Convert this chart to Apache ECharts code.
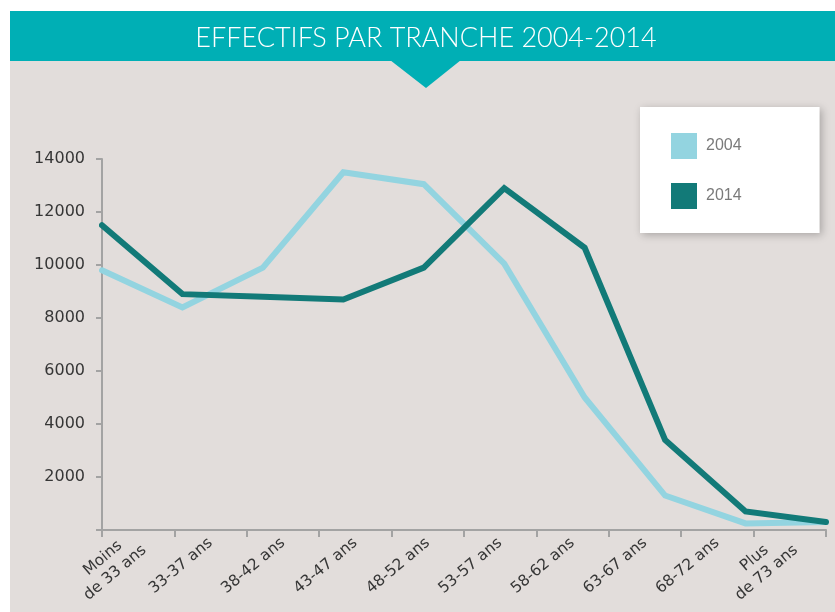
<!DOCTYPE html>
<html>
<head>
<meta charset="utf-8">
<title>Effectifs par tranche 2004-2014</title>
<script src="https://cdn.jsdelivr.net/npm/echarts@6/dist/echarts.min.js"></script>
<style>
  html, body { margin: 0; padding: 0; background: #fff; }
  #div_echarts { width: 835px; height: 612px; }
</style>
</head>
<body>
<div id="div_echarts"></div>
<script>
// tranches d'age
var categories = ['Moins\nde 33 ans', '33-37 ans', '38-42 ans', '43-47 ans', '48-52 ans',
    '53-57 ans', '58-62 ans', '63-67 ans', '68-72 ans', 'Plus\nde 73 ans'];
var values2004 = [9800, 8400, 9900, 13500, 13050, 10050, 5000, 1300, 250, 300];
var values2014 = [11500, 8900, 8800, 8700, 9900, 12900, 10650, 3400, 700, 300];
var yTicks = [0, 2000, 4000, 6000, 8000, 10000, 12000, 14000];

var axisFont = 'DejaVu Sans';
var axisGrey = '#a3a3a3';

var initEcharts = function () {
    var myChart = echarts.init(document.getElementById('div_echarts'));
    var option = {
        backgroundColor: '#e2dddb',
        animation: false,
        graphic: [
            // bandes blanches
            { type: 'rect', shape: { x: 0, y: 0, width: 835, height: 11 }, style: { fill: '#fff' } },
            { type: 'rect', shape: { x: 0, y: 0, width: 10, height: 612 }, style: { fill: '#fff' } },
            // bandeau titre
            { type: 'rect', shape: { x: 10, y: 11, width: 825, height: 50 }, style: { fill: '#00afb5' } },
            { type: 'polygon', shape: { points: [[390, 60], [461, 60], [426, 88]] }, style: { fill: '#00afb5' } },
            {
                type: 'text', x: 426, y: 38,
                style: {
                    text: 'EFFECTIFS PAR TRANCHE 2004-2014',
                    fill: '#fff', font: '300 27px Lato',
                    textAlign: 'center', textVerticalAlign: 'middle'
                }
            }
        ],
        legend: {
            orient: 'vertical',
            left: 640,
            top: 107,
            padding: [26, 78, 24, 31],
            itemGap: 24,
            itemWidth: 26,
            itemHeight: 26,
            icon: 'rect',
            backgroundColor: '#fff',
            shadowBlur: 8,
            shadowColor: 'rgba(0,0,0,0.25)',
            shadowOffsetX: 2,
            shadowOffsetY: 2,
            textStyle: { color: '#7a7a7a', fontSize: 16, fontFamily: 'Liberation Sans', padding: [3, 0, 0, 4] },
            data: ['2004', '2014']
        },
        grid: { left: 102, right: 9, top: 159, bottom: 82 },
        xAxis: [
            {
                type: 'category',
                data: categories,
                boundaryGap: true,
                axisLine: { lineStyle: { color: axisGrey, width: 2 } },
                axisTick: { show: true, interval: 0, length: 7, lineStyle: { color: axisGrey, width: 2 } },
                axisLabel: {
                    interval: 0,
                    rotate: 40,
                    margin: 11,
                    formatter: function (v) {
                        return v.split('\n').map(function (s) { return '{c|' + s + '}'; }).join('\n');
                    },
                    rich: {
                        c: { align: 'center', fontFamily: axisFont, fontSize: 15.5, color: '#363636', lineHeight: 19 }
                    }
                }
            },
            {
                type: 'category',
                data: categories,
                boundaryGap: false,
                show: false
            }
        ],
        yAxis: {
            type: 'value',
            min: yTicks[0],
            max: yTicks[yTicks.length - 1],
            interval: 2000,
            axisLine: { show: true, lineStyle: { color: axisGrey, width: 2 } },
            axisTick: { show: true, length: 6, lineStyle: { color: axisGrey, width: 2 } },
            splitLine: { show: false },
            axisLabel: {
                margin: 17,
                fontFamily: axisFont,
                fontSize: 16,
                color: '#363636',
                formatter: function (v) { return v === 0 ? '' : String(v); }
            }
        },
        series: [
            {
                name: '2004',
                type: 'line',
                xAxisIndex: 1,
                data: values2004,
                symbol: 'none',
                color: '#93d4e0',
                lineStyle: { width: 6, cap: 'round', join: 'miter' }
            },
            {
                name: '2014',
                type: 'line',
                xAxisIndex: 1,
                data: values2014,
                symbol: 'none',
                color: '#127a78',
                lineStyle: { width: 6, cap: 'round', join: 'miter' }
            }
        ]
    };
    myChart.setOption(option);
};

initEcharts();
</script>
</body>
</html>
